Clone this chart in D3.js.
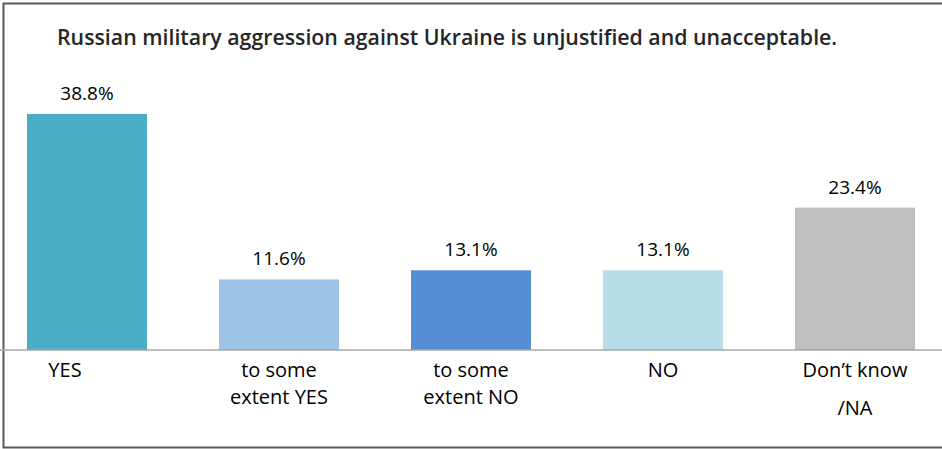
<!DOCTYPE html>
<html><head><meta charset="utf-8">
<script src="https://cdn.jsdelivr.net/npm/d3@7/dist/d3.min.js"></script>
<style>
html,body{margin:0;padding:0;background:#fff;}
svg{display:block;font-family:"Open Sans",sans-serif;}
</style></head>
<body><svg id="chart" width="942" height="449"></svg>
<script>
const title = "Russian military aggression against Ukraine is unjustified and unacceptable.";
const categories = ["YES", "to some extent YES", "to some extent NO", "NO", "Don\u2019t know /NA"];
const categoryLines = [["YES"], ["to some", "extent YES"], ["to some", "extent NO"], ["NO"], ["Don\u2019t know", "/NA"]];
const values = [38.8, 11.6, 13.1, 13.1, 23.4];
const colors = ["#4BACC6", "#9DC3E6", "#558ED5", "#B7DEE8", "#BFBFBF"];

const svg = d3.select("#chart");
const W = 942, H = 449;

// frame (top, left, bottom)
svg.append("path").attr("d", `M${W},3.5 H3.5 V447.5 H${W}`)
  .attr("fill", "none").attr("stroke", "#595959").attr("stroke-width", 2);

const x = d3.scaleBand().domain(categories).range([-9, 951]).paddingInner(0.375).paddingOuter(0.1875);
const y = d3.scaleLinear().domain([0, 40]).range([350, 106.6]);

svg.append("text").attr("x", 57).attr("y", 45)
  .attr("font-size", 21.3).attr("font-weight", 600).attr("fill", "#262626")
  .text(title);

svg.selectAll("rect.bar").data(values).join("rect").attr("class", "bar")
  .attr("x", (d, i) => x(categories[i]))
  .attr("y", d => y(d))
  .attr("width", x.bandwidth())
  .attr("height", d => y(0) - y(d))
  .attr("fill", (d, i) => colors[i]);

svg.selectAll("text.val").data(values).join("text").attr("class", "val")
  .attr("x", (d, i) => x(categories[i]) + x.bandwidth() / 2)
  .attr("y", d => y(d) - 14)
  .attr("text-anchor", "middle").attr("font-size", 19).attr("fill", "#000")
  .text(d => d.toFixed(1) + "%");

// axis
const axis = svg.append("g").attr("transform", "translate(0,350)")
  .call(d3.axisBottom(x).tickSize(0).tickFormat(""));
axis.select(".domain").attr("d", `M0,0H${W}`).attr("stroke", "#A6A6A6").attr("stroke-width", 1.5);

const lineGap = [0, 27, 27, 0, 38];
const labelShift = [-22, 0, 0, 0, 0];
const lab = svg.append("g");
categoryLines.forEach((lines, i) => {
  const t = lab.append("text")
    .attr("text-anchor", "middle").attr("font-size", 20).attr("fill", "#000");
  lines.forEach((ln, j) => {
    t.append("tspan")
      .attr("x", x(categories[i]) + x.bandwidth() / 2 + labelShift[i])
      .attr("y", 377 + j * lineGap[i])
      .text(ln);
  });
});
</script></body></html>
